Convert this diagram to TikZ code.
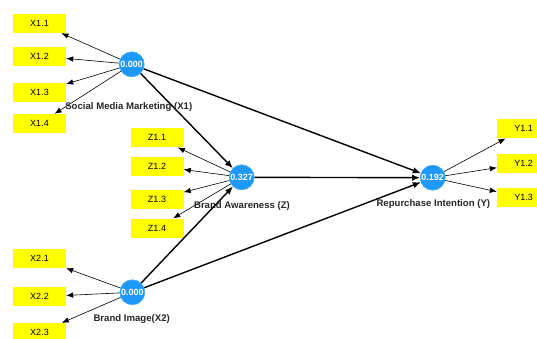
\documentclass[tikz,border=0pt]{standalone}
\usepackage{fontspec}
\setmainfont{Liberation Sans}
\usetikzlibrary{arrows.meta}
\definecolor{lvblue}{RGB}{30,152,250}
\definecolor{indyellow}{RGB}{255,255,0}
\tikzset{
  latent/.style={circle, fill=lvblue, draw=lvblue!70!white, line width=0.4pt, minimum size=25pt, inner sep=0pt,
    text=white, font=\fontsize{9}{10}\selectfont\bfseries},
  indicator/.style={rectangle, fill=indyellow, minimum width=53pt, minimum height=19pt, inner sep=0pt,
    font=\fontsize{9}{10}\selectfont},
  lvlabel/.style={font=\fontsize{9.6}{10}\selectfont\bfseries, text=black!85, inner sep=0pt},
  loading/.style={line width=0.6pt, -{Latex[length=7pt,width=5.5pt]}},
  path/.style={line width=1.4pt, -{Latex[length=8pt,width=6.5pt]}}
}
\begin{document}
\begin{tikzpicture}[x=1pt,y=-1pt]
\useasboundingbox (0,0) rectangle (537,338);
\begin{scope}
\clip (0,0) rectangle (537,338);
% latent variables
\node[latent] (x1) at (131.7,64.3) {0.000};
\node[latent] (z)  at (241.7,177.3) {0.327};
\node[latent] (x2) at (132.3,292.3) {0.000};
\node[latent] (y)  at (432.7,177.7) {0.192};

% indicators of X1
\node[indicator] (x11) at (39.5,23.5) {X1.1};
\node[indicator] (x12) at (39.5,56) {X1.2};
\node[indicator] (x13) at (39.5,92) {X1.3};
\node[indicator] (x14) at (39.5,123.5) {X1.4};
% indicators of Z
\node[indicator] (z11) at (157,137.8) {Z1.1};
\node[indicator] (z12) at (157,166) {Z1.2};
\node[indicator] (z13) at (157,199) {Z1.3};
\node[indicator] (z14) at (157,228) {Z1.4};
% indicators of X2
\node[indicator] (x21) at (39.5,258.5) {X2.1};
\node[indicator] (x22) at (39.5,296.7) {X2.2};
\node[indicator] (x23) at (39.5,332.5) {X2.3};
% indicators of Y
\node[indicator] (y11) at (523.5,128.8) {Y1.1};
\node[indicator] (y12) at (523.5,163.5) {Y1.2};
\node[indicator] (y13) at (523.5,197.5) {Y1.3};

% outer loadings
\foreach \t in {x11,x12,x13,x14} \draw[loading] (x1) -- (\t);
\foreach \t in {z11,z12,z13,z14} \draw[loading] (z) -- (\t);
\foreach \t in {x21,x22,x23} \draw[loading] (x2) -- (\t);
\foreach \t in {y11,y12,y13} \draw[loading] (y) -- (\t);

% structural paths
\draw[path] (x1) -- (z);
\draw[path] (x1) -- (y);
\draw[path] (z) -- (y);
\draw[path] (x2) -- (z);
\draw[path] (x2) -- (y);

% redraw circles on top of the lines
\node[latent] at (x1) {0.000};
\node[latent] at (z) {0.327};
\node[latent] at (x2) {0.000};
\node[latent] at (y) {0.192};

% construct names
\node[lvlabel] (lx1) at (128.8,107) {Social Media Marketing (X1)};
\node[lvlabel] (lz)  at (242,205.7) {Brand Awareness (Z)};
\node[lvlabel] (lx2) at (131.7,319) {Brand Image(X2)};
\node[lvlabel] (ly)  at (433.3,204.3) {Repurchase Intention (Y)};
\end{scope}
\end{tikzpicture}
\end{document}
